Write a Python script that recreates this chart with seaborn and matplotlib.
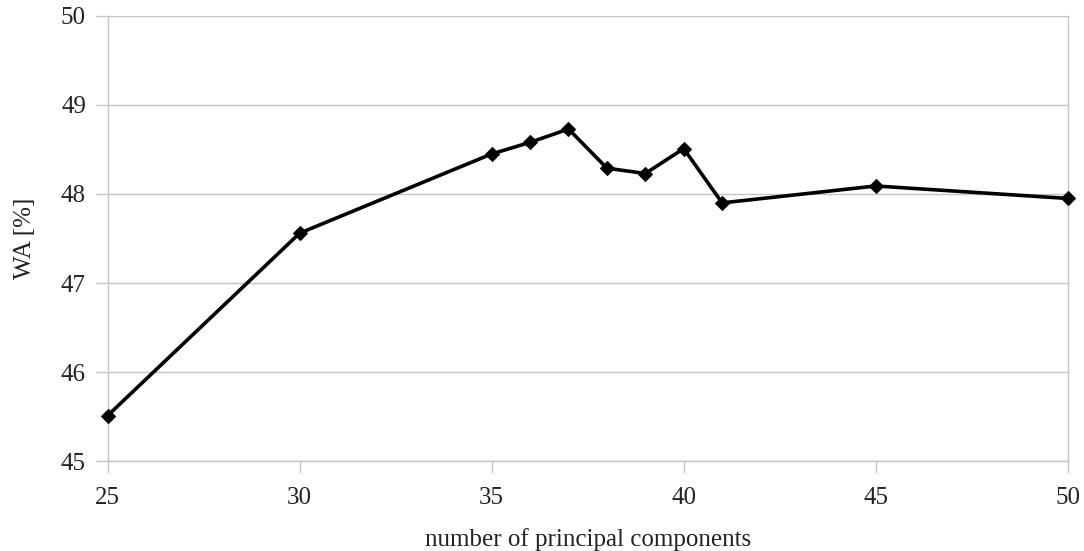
import pandas as pd
import seaborn as sns
import matplotlib
matplotlib.use("Agg")
import matplotlib.pyplot as plt

# values
components = [25, 30, 35, 36, 37, 38, 39, 40, 41, 45, 50]
wa = [45.51, 47.56, 48.45, 48.58, 48.73, 48.29, 48.23, 48.51, 47.90, 48.09, 47.95]
x_ticks = [25, 30, 35, 40, 45, 50]
y_ticks = [45, 46, 47, 48, 49, 50]

df = pd.DataFrame({'components': components, 'wa': wa})

sns.set_style('white')
plt.rcParams['font.family'] = ['Liberation Serif', 'DejaVu Serif']
plt.rcParams['xtick.bottom'] = True
plt.rcParams['ytick.left'] = True

fig, ax = plt.subplots(figsize=(10.84, 5.51), dpi=100)
fig.subplots_adjust(left=0.0993, right=0.985, top=0.971, bottom=0.1633)

sns.lineplot(data=df, x='components', y='wa', ax=ax, color='black', linewidth=2.6,
             marker='D', markersize=7, markeredgecolor='black', zorder=3, clip_on=False)

ax.set_xlim(25, 50)
ax.set_ylim(45, 50)
ax.set_xticks(x_ticks)
ax.set_yticks(y_ticks)
ax.grid(axis='y', color='#c4c4c4', linewidth=1.0)
ax.grid(axis='x', visible=False)

ax.spines['top'].set_visible(False)
for s in ['left', 'bottom', 'right']:
    ax.spines[s].set_color('#c4c4c4')
    ax.spines[s].set_linewidth(1.0)

ax.tick_params(axis='both', which='both', direction='out', length=8.6, width=1.0,
               color='#c4c4c4', labelsize=18, labelcolor='#222222',
               bottom=True, left=True, top=False, right=False)
ax.tick_params(axis='y', pad=7)
ax.tick_params(axis='x', pad=10)

ax.set_xlabel('number of principal components', fontsize=18, color='#222222', labelpad=14)
ax.set_ylabel('WA [%]', fontsize=18, color='#222222', labelpad=18)

fig.savefig('out.png', dpi=100)
